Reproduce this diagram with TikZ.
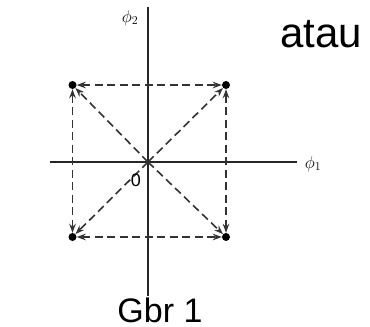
\documentclass[tikz,border=0pt]{standalone}
\usepackage{fontspec}
\setmainfont{Liberation Sans}
\usetikzlibrary{arrows.meta}

\begin{document}
\begin{tikzpicture}[x=1pt, y=-1pt,
  axis/.style={black!85, line width=1.6pt},
  dot/.style={circle, fill=black, inner sep=0pt, minimum size=8pt},
  move/.style={black!80, dashed, dash pattern=on 8pt off 4.5pt, line width=1.6pt},
  tip/.style={-{Stealth[length=9pt, width=6.5pt]}},
  tips/.style={{Stealth[length=9pt, width=6.5pt]}-{Stealth[length=9pt, width=6.5pt]}},
  label/.style={inner sep=0pt}]
\path[use as bounding box] (0,0) rectangle (370,327);
\coordinate (top) at (148,7);
\coordinate (bottom) at (148,296);
\coordinate (left) at (50,162);
\coordinate (right) at (297,162);
\coordinate (o) at (148,162);
\node[dot] (s1) at (226,85) {};
\node[dot] (s2) at (72.5,85) {};
\node[dot] (s3) at (72.5,237) {};
\node[dot] (s4) at (226,237) {};
\draw[axis] (top) -- (bottom);
\draw[axis] (left) -- (right);
\draw[move, tip] (o) -- (s1);
\draw[move, tip] (o) -- (s2);
\draw[move, tip] (o) -- (s3);
\draw[move, tip] (o) -- (s4);
\draw[move, tips] (s2) -- (s1);
\draw[move, tips] (s2) -- (s3);
\draw[move, tips] (s3) -- (s4);
\draw[move, tips] (s1) -- (s4);
\node[label] (phi2) at (130,18) {\fontsize{18}{18}\selectfont$\phi_2$};
\node[label] (phi1) at (313,164) {\fontsize{18}{18}\selectfont$\phi_1$};
\node[label] (zero) at (136,180) {\fontsize{18}{18}\selectfont 0};
\node[label, anchor=base] (atau) at (321,47) {\fontsize{42}{42}\selectfont atau};
\node[label, anchor=base] (gbr) at (160,322) {\fontsize{34}{34}\selectfont Gbr 1};
\end{tikzpicture}
\end{document}
